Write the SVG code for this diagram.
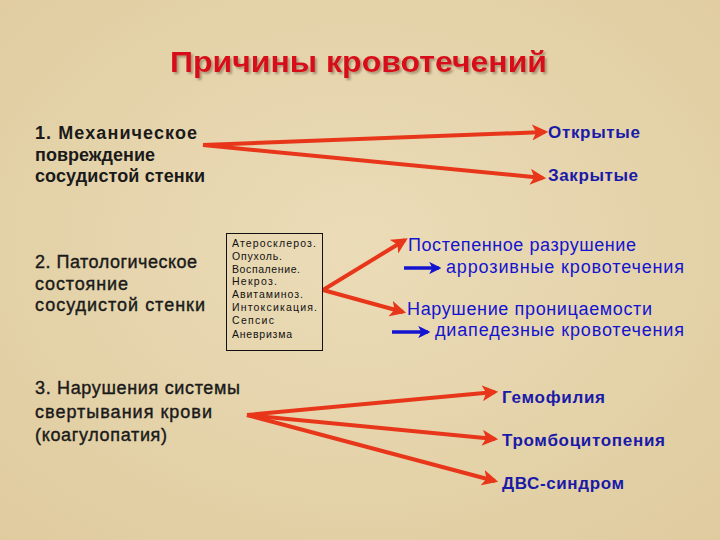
<svg xmlns="http://www.w3.org/2000/svg" width="720" height="540" viewBox="0 0 720 540">
<defs>
<style>
.t{font-family:"Liberation Sans",Arial,sans-serif}
.blk{font-size:18px;fill:#1a1a1a;font-weight:bold}
.blk2{font-size:18px;fill:#1a1a1a;stroke:#1a1a1a;stroke-width:0.4}
.blu{font-size:17px;fill:#1a1aa8;font-weight:bold}
.blu2{font-size:18px;fill:#1414d0}
.sm{font-size:10.5px;fill:#111}
.con{stroke:#e8361a;stroke-width:4;fill:none;marker-end:url(#ah)}
.bcon{stroke:#1414d0;stroke-width:3.5;fill:none;marker-end:url(#bh)}
</style>
<marker id="ah" viewBox="0 0 10 10" refX="8" refY="5" markerWidth="4" markerHeight="4" orient="auto" markerUnits="strokeWidth">
<path d="M0,0 L10,5 L0,10 L2.5,5 z" fill="#e8361a"/>
</marker>
<marker id="bh" viewBox="0 0 10 10" refX="8" refY="5" markerWidth="3.5" markerHeight="3.5" orient="auto" markerUnits="strokeWidth">
<path d="M0,0 L10,5 L0,10 L2.5,5 z" fill="#1414d0"/>
</marker>
<radialGradient id="bg" cx="50%" cy="45%" r="75%">
<stop offset="0" stop-color="#ebdcb8"/>
<stop offset="1" stop-color="#dfcb9e"/>
</radialGradient>
<filter id="sh" x="-5%" y="-20%" width="110%" height="150%">
<feDropShadow dx="2" dy="2" stdDeviation="1" flood-color="#7a6a50" flood-opacity="0.6"/>
</filter>
</defs>
<rect x="0" y="0" width="720" height="540" fill="url(#bg)"/>

<g id="title">
<text class="t" x="170" y="72" textLength="377" lengthAdjust="spacingAndGlyphs" font-size="30" font-weight="bold" fill="#d8101a" filter="url(#sh)">Причины кровотечений</text>
</g>

<g id="connectors">
<line class="con" x1="203" y1="145" x2="545" y2="132"/>
<line class="con" x1="203" y1="145" x2="543" y2="178"/>
<line class="con" x1="323" y1="290" x2="405" y2="240"/>
<line class="con" x1="323" y1="290" x2="403" y2="312"/>
<line class="con" x1="247" y1="415" x2="495" y2="392"/>
<line class="con" x1="247" y1="415" x2="495" y2="439"/>
<line class="con" x1="247" y1="415" x2="495" y2="481"/>
<line class="bcon" x1="404" y1="268" x2="439" y2="268"/>
<line class="bcon" x1="392" y1="332" x2="428" y2="332"/>
</g>

<g id="n1">
<text class="t blk" x="35" y="139" textLength="162">1.  Механическое</text>
<text class="t blk" x="35" y="161" textLength="120">повреждение</text>
<text class="t blk" x="35" y="182" textLength="170">сосудистой стенки</text>
</g>
<g id="n-open"><text class="t blu" x="548" y="138" textLength="92">Открытые</text></g>
<g id="n-closed"><text class="t blu" x="548" y="181" textLength="90">Закрытые</text></g>

<g id="n2">
<text class="t blk2" x="35" y="268" textLength="162">2. Патологическое</text>
<text class="t blk2" x="35" y="290" textLength="93">состояние</text>
<text class="t blk2" x="35" y="311" textLength="170">сосудистой стенки</text>
</g>
<g id="n-list">
<rect x="226.5" y="233.5" width="96" height="117" fill="none" stroke="#111" stroke-width="1"/>
<text class="t sm" x="232" y="247" textLength="84">Атеросклероз.</text>
<text class="t sm" x="232" y="260" textLength="50">Опухоль.</text>
<text class="t sm" x="232" y="272.5" textLength="68">Воспаление.</text>
<text class="t sm" x="232" y="285" textLength="45">Некроз.</text>
<text class="t sm" x="232" y="298" textLength="71">Авитаминоз.</text>
<text class="t sm" x="232" y="311" textLength="85">Интоксикация.</text>
<text class="t sm" x="232" y="324" textLength="42">Сепсис</text>
<text class="t sm" x="232" y="338" textLength="60">Аневризма</text>
</g>
<g id="n-arroz">
<text class="t blu2" x="408" y="251" textLength="228">Постепенное разрушение</text>
<text class="t blu2" x="446" y="273" textLength="238">аррозивные кровотечения</text>
</g>
<g id="n-diaped">
<text class="t blu2" x="407" y="315" textLength="245">Нарушение проницаемости</text>
<text class="t blu2" x="435" y="336" textLength="249">диапедезные кровотечения</text>
</g>

<g id="n3">
<text class="t blk2" x="35" y="394" textLength="205">3. Нарушения системы</text>
<text class="t blk2" x="35" y="418" textLength="177">свертывания крови</text>
<text class="t blk2" x="35" y="441" textLength="132">(коагулопатия)</text>
</g>
<g id="n-hemo"><text class="t blu" x="502" y="403" textLength="103">Гемофилия</text></g>
<g id="n-thromb"><text class="t blu" x="502" y="446" textLength="163">Тромбоцитопения</text></g>
<g id="n-dic"><text class="t blu" x="502" y="489" textLength="122">ДВС-синдром</text></g>
</svg>
